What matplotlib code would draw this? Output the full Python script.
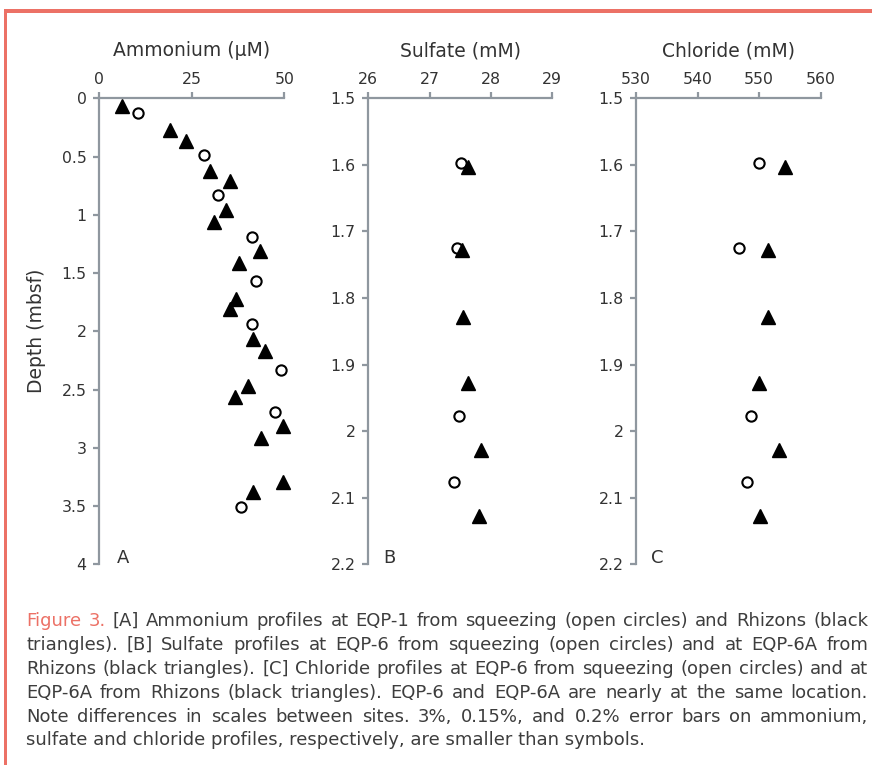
import matplotlib
matplotlib.use("Agg")
import matplotlib.pyplot as plt
import numpy as np
from matplotlib.patches import Rectangle
from matplotlib.ticker import FuncFormatter

plt.rcParams['font.family'] = ['DejaVu Sans']

# ---- data ----
# A: ammonium (uM) vs depth (mbsf)
nh4_tri_x = [6.1, 19.2, 23.4, 30.0, 35.3, 34.3, 31.1, 43.4, 37.7, 36.9, 35.3,
             41.5, 44.8, 40.1, 36.7, 49.6, 43.6, 49.6, 41.6]
nh4_tri_d = [0.07, 0.27, 0.37, 0.62, 0.71, 0.96, 1.06, 1.31, 1.41, 1.72, 1.81,
             2.07, 2.17, 2.47, 2.56, 2.81, 2.92, 3.29, 3.38]
nh4_circ_x = [10.6, 28.3, 32.2, 41.2, 42.4, 41.2, 49.0, 47.6, 38.3]
nh4_circ_d = [0.13, 0.49, 0.83, 1.19, 1.57, 1.94, 2.33, 2.69, 3.51]

# B: sulfate (mM)
so4_circ_x = [27.51, 27.44, 27.48, 27.39]
so4_circ_d = [1.597, 1.725, 1.977, 2.077]
so4_tri_x = [27.62, 27.52, 27.55, 27.63, 27.84, 27.81]
so4_tri_d = [1.603, 1.728, 1.828, 1.928, 2.028, 2.127]

# C: chloride (mM)
cl_circ_x = [550.0, 546.7, 548.6, 548.0]
cl_circ_d = [1.597, 1.725, 1.977, 2.077]
cl_tri_x = [554.2, 551.5, 551.5, 550.0, 553.3, 550.2]
cl_tri_d = [1.603, 1.728, 1.828, 1.928, 2.028, 2.127]

titles = ["Ammonium (µM)", "Sulfate (mM)", "Chloride (mM)"]
letters = ["A", "B", "C"]
xticks = [[0, 25, 50], [26, 27, 28, 29], [530, 540, 550, 560]]
yticks = [np.round(np.arange(0, 4.01, 0.5), 2), np.round(np.arange(1.5, 2.201, 0.1), 2),
          np.round(np.arange(1.5, 2.201, 0.1), 2)]

caption_lines = [
    "Figure 3. [A] Ammonium profiles at EQP-1 from squeezing (open circles) and Rhizons (black",
    "triangles). [B] Sulfate profiles at EQP-6 from squeezing (open circles) and at EQP-6A from",
    "Rhizons (black triangles). [C] Chloride profiles at EQP-6 from squeezing (open circles) and at",
    "EQP-6A from Rhizons (black triangles). EQP-6 and EQP-6A are nearly at the same location.",
    "Note differences in scales between sites. 3%, 0.15%, and 0.2% error bars on ammonium,",
    "sulfate and chloride profiles, respectively, are smaller than symbols.",
]

W, H = 872, 765
salmon = '#EC7166'
axgray = '#8F979F'
txt = '#333333'
captxt = '#3d3d3d'

fig = plt.figure(figsize=(W / 100, H / 100), dpi=100)
fig.patch.set_facecolor('white')

# border lines (top and left)
fig.patches.append(Rectangle((4 / W, 1 - 13.3 / H), 1 - 4 / W, 4 / H, transform=fig.transFigure,
                             color=salmon, lw=0))
fig.patches.append(Rectangle((4 / W, 0), 3.4 / W, 1 - 9.3 / H, transform=fig.transFigure,
                             color=salmon, lw=0))

lefts = [99, 368.3, 636]
rights = [284.3, 552.3, 820.7]
top, bottom = 98.3, 564.3
letter_off = [18, 15, 15]

data = [
    (nh4_circ_x, nh4_circ_d, nh4_tri_x, nh4_tri_d),
    (so4_circ_x, so4_circ_d, so4_tri_x, so4_tri_d),
    (cl_circ_x, cl_circ_d, cl_tri_x, cl_tri_d),
]

for i in range(3):
    l, r = lefts[i], rights[i]
    ax = fig.add_axes([l / W, 1 - bottom / H, (r - l) / W, (bottom - top) / H])
    cx, cd, tx, td = data[i]
    ax.plot(cx, cd, 'o', ms=7.4, mfc='white', mec='black', mew=1.5, ls='none', clip_on=False)
    ax.plot(tx, td, '^', ms=9.5, color='black', ls='none', clip_on=False)
    ax.set_xlim(xticks[i][0], xticks[i][-1])
    ax.set_ylim(yticks[i][-1], yticks[i][0])
    ax.set_xticks(xticks[i])
    ax.set_yticks(yticks[i])
    ax.yaxis.set_major_formatter(FuncFormatter(lambda v, p: ('%g' % round(v, 2))))
    ax.xaxis.tick_top()
    for s in ['right', 'bottom']:
        ax.spines[s].set_visible(False)
    for s in ['top', 'left']:
        ax.spines[s].set_color(axgray)
        ax.spines[s].set_linewidth(1.6)
    ax.tick_params(axis='both', direction='out', length=4, width=1.6, color=axgray,
                   labelsize=11.3, labelcolor=txt, pad=4)
    ax.tick_params(axis='y', pad=5)
    ax.set_facecolor('none')
    hpx = bottom - top
    wpx = r - l
    ax.text(0.5, 1 + 42 / hpx, titles[i], transform=ax.transAxes, ha='center', va='baseline',
            fontsize=13.5, color=txt)
    ax.text(letter_off[i] / wpx, 1.5 / hpx, letters[i], transform=ax.transAxes, ha='left',
            va='baseline', fontsize=13, color=txt)
    if i == 0:
        ax.text((37 - l) / wpx, 0.5, "Depth (mbsf)", transform=ax.transAxes, rotation=90,
                ha='center', va='center', fontsize=13.5, color=txt)

# caption, justified between x=26 and x=868
renderer = fig.canvas.get_renderer()
x_left, x_right = 26, 868
y_centers = [619.3, 643.3, 667.3, 691, 715, 738.3]
cap_fs = 13
for li, line in enumerate(caption_lines):
    yb = 1 - (y_centers[li] + 6.5) / H
    if li == len(caption_lines) - 1:
        fig.text(x_left / W, yb, line, fontsize=cap_fs, color=captxt, va='baseline', ha='left')
        continue
    words = line.split(' ')
    objs = []
    for wi, w in enumerate(words):
        c = salmon if (li == 0 and wi < 2) else captxt
        t = fig.text(0, yb, w, fontsize=cap_fs, color=c, va='baseline', ha='left')
        objs.append(t)
    widths = [t.get_window_extent(renderer=renderer).width for t in objs]
    gap = (x_right - x_left - sum(widths)) / (len(words) - 1)
    x = x_left
    for t, wd in zip(objs, widths):
        t.set_x(x / W)
        x += wd + gap

fig.savefig('out.png', dpi=100, facecolor='white')
